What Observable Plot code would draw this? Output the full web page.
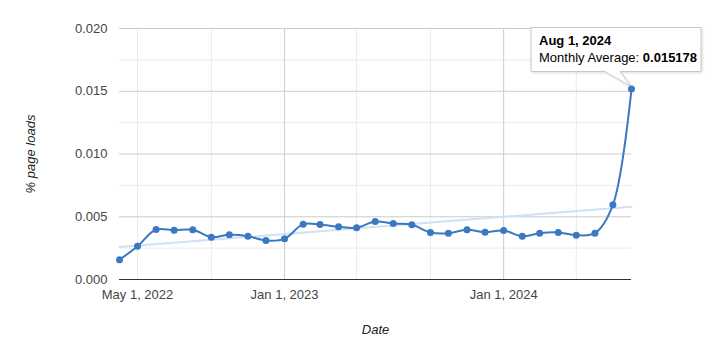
<!DOCTYPE html>
<html><head><meta charset="utf-8">
<script src="https://cdn.jsdelivr.net/npm/d3@7"></script>
<script src="https://cdn.jsdelivr.net/npm/@observablehq/plot@0.6"></script>
<style>
body{margin:0;background:#fff;}
svg{font-family:"Liberation Sans",Arial,sans-serif;}
g[aria-label="y-axis label"] text, g[aria-label="x-axis label"] text {font-style:italic;fill:#222;}
</style></head><body><div id="chart"></div>
<script>
const months = ["2022-04-01","2022-05-01","2022-06-01","2022-07-01","2022-08-01","2022-09-01","2022-10-01","2022-11-01","2022-12-01",
  "2023-01-01","2023-02-01","2023-03-01","2023-04-01","2023-05-01","2023-06-01","2023-07-01","2023-08-01","2023-09-01","2023-10-01","2023-11-01","2023-12-01",
  "2024-01-01","2024-02-01","2024-03-01","2024-04-01","2024-05-01","2024-06-01","2024-07-01","2024-08-01"];
const monthlyAverage = [0.00157,0.00265,0.00398,0.00392,0.00396,0.00337,0.00356,0.00345,0.00311,
  0.00324,0.00441,0.00438,0.00420,0.00412,0.00462,0.00446,0.00436,0.00375,0.00369,0.00396,0.00377,
  0.00390,0.00345,0.00369,0.00375,0.00353,0.00369,0.00595,0.015178];
const yTicks = [0, 0.005, 0.010, 0.015, 0.020];
const yMinorGrid = [0.0025, 0.0075, 0.0125, 0.0175];
const xLabelTicks = ["2022-05-01","2023-01-01","2024-01-01"];
const xMajorGrid = ["2023-01-01","2024-01-01"];
const xMinorGrid = ["2022-05-01","2022-09-01","2023-05-01","2023-09-01","2024-05-01"];
const tipTitle = "Aug 1, 2024";
const tipLabel = "Monthly Average: ";
const tipValue = "0.015178";

const parse = d3.utcParse("%Y-%m-%d");
const data = months.map((m, i) => ({date: parse(m), value: monthlyAverage[i]}));
const lineColor = "#3b78c4";

function tooltip(index, scales, values, dimensions, context) {
  const last = data[data.length - 1];
  const px = scales.x(last.date), py = scales.y(last.value);
  const g = d3.create("svg:g").attr("text-anchor", "start");
  const defs = g.append("defs");
  defs.append("filter").attr("id", "tipShadow").attr("x", "-10%").attr("y", "-10%").attr("width", "130%").attr("height", "140%")
    .append("feDropShadow").attr("dx", 1).attr("dy", 1).attr("stdDeviation", 1.2).attr("flood-color", "#000").attr("flood-opacity", 0.15);
  const left = px - 100, right = px + 70, top = py - 61, bottom = py - 17;
  g.append("path")
    .attr("d", `M${left},${top}H${right}V${bottom}H${px - 11}L${px},${py - 2}L${px - 26},${bottom}H${left}Z`)
    .attr("fill", "#fff").attr("stroke", "#c8c8c8").attr("stroke-width", 1).attr("filter", "url(#tipShadow)");
  g.append("text").attr("x", left + 8).attr("y", top + 17).attr("text-anchor", "start").attr("font-size", 13).attr("font-weight", "bold").attr("fill", "#000").text(tipTitle);
  const t = g.append("text").attr("x", left + 8).attr("y", top + 34).attr("text-anchor", "start").attr("font-size", 13).attr("fill", "#000");
  t.append("tspan").text(tipLabel);
  t.append("tspan").attr("font-weight", "bold").text(tipValue);
  return g.node();
}

const chart = Plot.plot({
  width: 719, height: 348,
  marginLeft: 119, marginRight: 88, marginTop: 28, marginBottom: 69,
  style: {fontFamily: '"Liberation Sans", Arial, sans-serif', fontSize: "13px", color: "#444", background: "#fff", overflow: "visible"},
  x: {type: "utc", domain: [data[0].date, data[data.length - 1].date]},
  y: {domain: [0, 0.02]},
  marks: [
    Plot.ruleY(yMinorGrid, {stroke: "#ebebeb"}),
    Plot.ruleX(xMinorGrid.map(parse), {stroke: "#ebebeb"}),
    Plot.ruleY(yTicks.slice(1), {stroke: "#cccccc"}),
    Plot.ruleX(xMajorGrid.map(parse), {stroke: "#cccccc"}),
    Plot.ruleY([0], {stroke: "#333"}),
    Plot.axisY({ticks: yTicks, tickFormat: d3.format(".3f"), tickSize: 0, tickPadding: 12, fontSize: 13,
      label: "% page loads", labelAnchor: "center", labelOffset: 94, labelArrow: "none"}),
    Plot.axisX({ticks: xLabelTicks.map(parse), tickFormat: d3.utcFormat("%b %-d, %Y"), tickSize: 0, tickPadding: 10, fontSize: 13,
      label: "Date", labelAnchor: "center", labelOffset: 54, labelArrow: "none"}),
    Plot.linearRegressionY(data, {x: "date", y: "value", stroke: "#cfe1f3", strokeWidth: 2, ci: 0}),
    Plot.line(data, {x: "date", y: "value", stroke: lineColor, strokeWidth: 2, curve: "catmull-rom"}),
    tooltip,
    Plot.dot(data, {x: "date", y: "value", fill: lineColor, r: 3.5})
  ]
});
document.getElementById("chart").appendChild(chart);
</script></body></html>
